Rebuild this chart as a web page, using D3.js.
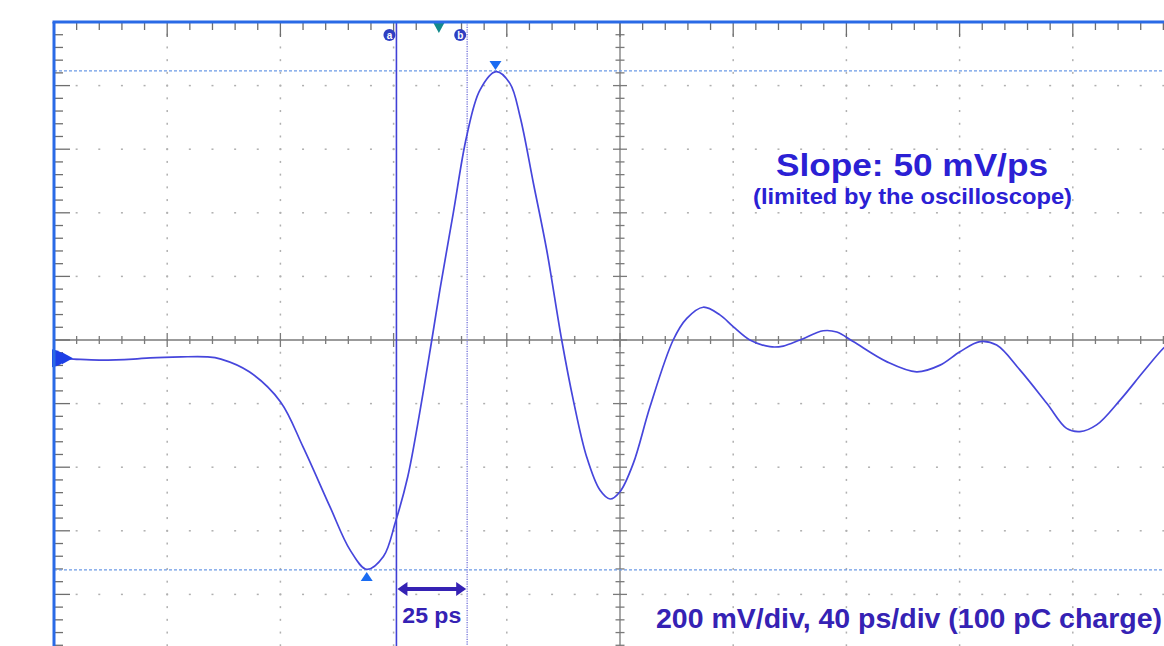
<!DOCTYPE html>
<html><head><meta charset="utf-8">
<script src="https://cdn.jsdelivr.net/npm/d3@7"></script>
<style>html,body{margin:0;padding:0;background:#fff;overflow:hidden}</style>
</head><body><svg id="c" width="1164" height="646"></svg>
<script>
// ---- data (time in ps, voltage in mV) ----
const timePs = [-200,-193,-184,-172,-166,-155,-146,-141,-131,-120,-112,-102.5,-95.4,-89.5,-83.6,-79.3,-75,-71,-66.5,-63.6,-58.9,-54.2,-49.5,-43.8,-38.9,-35.3,-30.6,-25.9,-20.6,-16.5,-11.8,-7.1,-3.5,0,4.7,10.6,18.8,23.6,29.4,35.3,40,45.9,53,57.7,63.6,71.8,76.6,82.4,94.2,104.8,113.1,120.1,127.2,133.1,141.3,150.8,157.8,162.5,168.4,176.7,184.9,192,200];
const voltageMv = [-57,-60,-63,-60,-56,-53,-53,-60,-100,-194,-336,-524,-660,-721,-681,-571,-430,-240,0,160,400,640,786,844,807,702,493,283,0,-189,-367,-472,-500,-477,-388,-210,0,68,103,79,42,0,-21,-19,0,29,25,-5,-68,-100,-79,-37,-5,-16,-94,-199,-278,-288,-267,-189,-100,-26,40];
const cursorNames = ["a", "b"];
const cursorTimesPs = [-79, -54];
const levelMv = [846, -723];
const peakTimePs = -44, troughTimePs = -89.5;
const triggerTimePs = -64;
const offsetMv = -57;
const titleText = "Slope: 50 mV/ps";
const subText = "(limited by the oscilloscope)";
const scaleText = "200 mV/div, 40 ps/div (100 pC charge)";
const deltaText = "25 ps";
const timeDomain = [-200, 200], voltDomain = [-1000, 1000];
const majorT = 40, minorT = 8, majorV = 200, minorV = 40;

// ---- layout ----
const W = 1164, H = 646;
const svg = d3.select("#c");
const x = d3.scaleLinear().domain(timeDomain).range([54, 1186]);
const y = d3.scaleLinear().domain(voltDomain).range([658, 22]);
const L = x(timeDomain[0]), T = y(voltDomain[1]);
const x0 = x(0), y0 = y(0);
const near = (a, b) => Math.abs(a - b) < 1e-6;
const isMajor = (v, m) => near(((v % m) + m) % m, 0) || near(((v % m) + m) % m, m);

const minorTs = d3.range(timeDomain[0], timeDomain[1] + 0.001, minorT);
const minorVs = d3.range(voltDomain[0], voltDomain[1] + 0.001, minorV);
const majorTs = d3.range(timeDomain[0] + majorT, timeDomain[1], majorT).filter(t => !near(t, 0));
const majorVs = d3.range(voltDomain[0] + majorV, voltDomain[1], majorV).filter(v => !near(v, 0));

// grid dots
const gGrid = svg.append("g").attr("fill", "#b0b0b0");
majorTs.forEach(t => minorVs.forEach(v => {
  gGrid.append("rect").attr("x", x(t) - 0.75).attr("y", y(v) - 1).attr("width", 1.5).attr("height", 2);
}));
majorVs.forEach(v => minorTs.forEach(t => {
  gGrid.append("rect").attr("x", x(t) - 1).attr("y", y(v) - 0.75).attr("width", 2).attr("height", 1.5);
}));

// center axes
const gAx = svg.append("g").attr("stroke", "#7a7a7a").attr("stroke-width", 1.3);
gAx.append("line").attr("x1", L).attr("x2", W).attr("y1", y0).attr("y2", y0);
gAx.append("line").attr("x1", x0).attr("x2", x0).attr("y1", T).attr("y2", H);
minorTs.forEach(t => { const h = isMajor(t, majorT) ? 7 : 4;
  gAx.append("line").attr("x1", x(t)).attr("x2", x(t)).attr("y1", y0 - h).attr("y2", y0 + h); });
minorVs.forEach(v => { const h = isMajor(v, majorV) ? 7 : 4.5;
  gAx.append("line").attr("x1", x0 - h).attr("x2", x0 + h).attr("y1", y(v)).attr("y2", y(v)); });

// border ticks
const gB = svg.append("g").attr("stroke", "#6e6e6e").attr("stroke-width", 1.3);
minorTs.forEach(t => { const h = isMajor(t, majorT) ? 15 : 8;
  gB.append("line").attr("x1", x(t)).attr("x2", x(t)).attr("y1", T).attr("y2", T + h); });
minorVs.forEach(v => { const h = isMajor(v, majorV) ? 16 : 9;
  gB.append("line").attr("x1", L).attr("x2", L + h).attr("y1", y(v)).attr("y2", y(v)); });

// horizontal level cursors
svg.append("g").selectAll("line").data(levelMv).join("line")
  .attr("x1", L).attr("x2", W).attr("y1", d => y(d)).attr("y2", d => y(d))
  .attr("stroke", "#6c9be6").attr("stroke-width", 1.3).attr("stroke-dasharray", "3,2");

// vertical time cursors
svg.append("g").selectAll("line").data(cursorTimesPs).join("line")
  .attr("x1", d => x(d)).attr("x2", d => x(d)).attr("y1", T).attr("y2", H)
  .attr("stroke", (d, i) => i === 0 ? "#4040d6" : "#8a8ae0")
  .attr("stroke-width", 1.6)
  .attr("stroke-dasharray", (d, i) => i === 0 ? null : "1.2,1.2");

// trace
const pts = timePs.map((t, i) => [t, voltageMv[i]]);
svg.append("path").datum(pts)
  .attr("d", d3.line().x(d => x(d[0])).y(d => y(d[1])).curve(d3.curveCatmullRom.alpha(0.5)))
  .attr("fill", "none").attr("stroke", "#4646dc").attr("stroke-width", 1.7);

// cursor labels
const gLab = svg.append("g");
cursorTimesPs.forEach((t, i) => {
  gLab.append("circle").attr("cx", x(t) - 7).attr("cy", 35).attr("r", 6).attr("fill", "#2f3fc2");
  gLab.append("text").attr("x", x(t) - 7).attr("y", 38.5).attr("text-anchor", "middle")
    .attr("font-family", "Liberation Sans, Arial, sans-serif").attr("font-weight", "bold")
    .attr("font-size", 10).attr("fill", "#fff").text(cursorNames[i]);
});

// trigger marker
const tx = x(triggerTimePs);
svg.append("path").attr("d", `M${tx-6},${T}L${tx+6},${T}L${tx},${T+11}Z`).attr("fill", "#12898c");

// peak / trough markers
const px = x(peakTimePs), py = y(levelMv[0]);
svg.append("path").attr("d", `M${px-6},${py-10}L${px+6},${py-10}L${px},${py-1}Z`).attr("fill", "#1a6cf2");
const qx = x(troughTimePs), qy = y(levelMv[1]);
svg.append("path").attr("d", `M${qx-6},${qy+11}L${qx+6},${qy+11}L${qx},${qy+2}Z`).attr("fill", "#1a6cf2");

// offset marker
const oy = y(offsetMv);
svg.append("path").attr("d", `M${L-2},${oy-9}Q${L+9},${oy-7} ${L+13},${oy}Q${L+9},${oy+7} ${L-2},${oy+9}Z`).attr("fill", "#1d3fe6");
svg.append("path").attr("d", `M${L+8},${oy-6}L${L+19},${oy}L${L+8},${oy+6}Z`).attr("fill", "#1d3fe6");

// borders
svg.append("line").attr("x1", L - 1.5).attr("x2", W).attr("y1", T).attr("y2", T)
  .attr("stroke", "#2a6ae6").attr("stroke-width", 3);
svg.append("line").attr("x1", L).attr("x2", L).attr("y1", T).attr("y2", H)
  .attr("stroke", "#2a6ae6").attr("stroke-width", 3);

// delta arrow
const ax1 = x(cursorTimesPs[0]) + 1, ax2 = x(cursorTimesPs[1]) - 1, ay = 589;
const arrowCol = "#3522b4";
svg.append("rect").attr("x", ax1 + 6).attr("y", ay - 2).attr("width", ax2 - ax1 - 12).attr("height", 4).attr("fill", arrowCol);
svg.append("path").attr("d", `M${ax1},${ay}L${ax1+10},${ay-7}L${ax1+10},${ay+7}Z`).attr("fill", arrowCol);
svg.append("path").attr("d", `M${ax2},${ay}L${ax2-10},${ay-7}L${ax2-10},${ay+7}Z`).attr("fill", arrowCol);

// texts
const font = "Liberation Sans, Arial, Helvetica, sans-serif";
function txt(s, cx, by, size, len, col) {
  svg.append("text").attr("x", cx).attr("y", by).attr("text-anchor", "middle")
    .attr("font-family", font).attr("font-weight", "bold").attr("font-size", size)
    .attr("fill", col).attr("textLength", len).attr("lengthAdjust", "spacingAndGlyphs").text(s);
}
txt(titleText, 912, 176, 31, 272, "#2b20d4");
txt(subText, 912.5, 204, 22, 319, "#2b20d4");
txt(scaleText, 909, 628, 28, 506, "#3522b4");
txt(deltaText, (x(cursorTimesPs[0]) + x(cursorTimesPs[1])) / 2, 623, 21.5, 59, "#3522b4");
</script></body></html>
